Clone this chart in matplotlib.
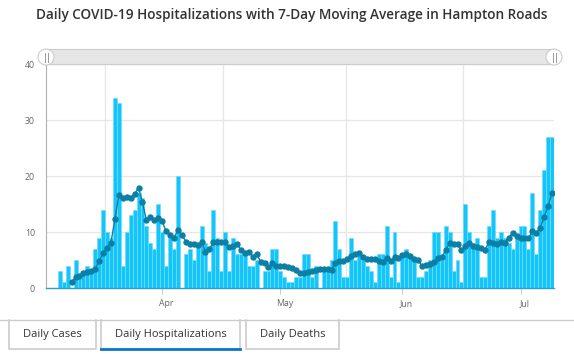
import matplotlib
matplotlib.use("Agg")
import matplotlib.pyplot as plt
import matplotlib.transforms as mtransforms
from matplotlib.patches import Rectangle, Circle
import pandas as pd

# Daily hospitalizations, one value per day starting Mar 3
START_DATE = "2020-03-03"
daily_hosp = [0, 0, 0, 3, 1, 4, 0, 5, 2, 3, 4, 3, 7, 9, 14, 10, 9, 34, 33, 4,
              10, 13, 14, 17, 16, 11, 8, 7, 15, 10, 4, 9, 7, 20, 0, 6, 7, 5, 8, 11,
              8, 3, 14, 9, 3, 10, 3, 9, 6, 6, 6, 4, 4, 5, 0, 3, 3, 7, 7, 3,
              2, 1, 1, 2, 2, 6, 6, 2, 4, 0, 3, 3, 5, 12, 7, 2, 2, 9, 5, 6,
              5, 4, 3, 1, 6, 6, 11, 2, 10, 1, 6, 7, 6, 5, 2, 2, 3, 5, 10, 10,
              5, 11, 10, 3, 5, 1, 15, 10, 8, 9, 2, 2, 11, 14, 9, 10, 9, 8, 7, 9,
              11, 11, 7, 17, 6, 14, 21, 27, 27]

# 7-day moving average (first six days have none)
moving_avg = [None, None, None, None, None, None, 1.1, 1.9, 2.2, 2.6, 2.8, 3.1, 3.4, 4.8,
              6.2, 7.2, 8.1, 12.4, 16.6, 16.1, 16.3, 16.1, 16.8, 17.9, 15.3, 12.1, 12.6,
              12.2, 12.5, 11.9, 10.1, 9.5, 8.9, 10.4, 9.5, 8.3, 7.8, 7.9, 7.6, 8.3, 6.5,
              6.9, 8.2, 8.3, 8.2, 8.3, 7.3, 7.5, 7.9, 6.8, 6.3, 6.5, 5.6, 6.1, 4.7, 4.4,
              3.8, 4.4, 4.0, 3.9, 3.9, 3.8, 3.5, 3.3, 2.6, 2.6, 2.9, 3.1, 3.3, 3.4, 3.4,
              3.4, 3.3, 4.4, 4.9, 4.9, 5.1, 5.8, 6.1, 6.3, 5.5, 5.2, 5.2, 5.1, 4.8, 4.6,
              5.4, 4.8, 5.5, 5.3, 5.9, 6.1, 5.7, 5.1, 5.0, 3.9, 4.1, 4.3, 4.7, 5.3, 5.5,
              6.8, 8.0, 7.9, 7.9, 6.7, 7.5, 8.0, 7.5, 7.4, 7.1, 6.8, 8.3, 8.1, 7.9, 8.3,
              8.1, 9.0, 9.8, 9.3, 9.0, 9.0, 8.9, 10.1, 9.8, 10.8, 12.6, 14.6, 17.0]

month_ticks = ["2020-04-01", "2020-05-01", "2020-06-01", "2020-07-01"]
month_labels = ["Apr", "May", "Jun", "Jul"]
grid_dates = ["2020-03-17 14:00", "2020-04-16 12:00", "2020-05-17 14:00", "2020-06-16 10:00"]
y_ticks = [0, 10, 20, 30, 40]
tab_labels = ["Daily Cases", "Daily Hospitalizations", "Daily Deaths"]

W, H = 574, 354
FONT = "Open Sans"
plt.rcParams["font.family"] = [FONT, "DejaVu Sans"]

dates = pd.date_range(START_DATE, periods=len(daily_hosp), freq="D")

fig = plt.figure(figsize=(W / 100, H / 100), dpi=100)
fig.patch.set_facecolor("white")

# plot area in pixels: x 46..554, y 64..288
L, R, T, B = 46, 554, 64, 288
ax = fig.add_axes([L / W, 1 - B / H, (R - L) / W, (B - T) / H])

ax.bar(dates, daily_hosp, width=1.0, color="#14c5fa", edgecolor="#6fdcff",
       linewidth=0.5, zorder=2)
ma = pd.Series(moving_avg, index=dates, dtype=float)
ax.plot(ma.index, ma.values, color="#0b7fa4", linewidth=1.0, marker="o",
        markersize=4.6, markeredgewidth=0, zorder=3)

ax.set_xlim(dates[0] - pd.Timedelta(hours=12), dates[-1] + pd.Timedelta(hours=12))
ax.set_ylim(0, 40)

ax.set_yticks(y_ticks)
ax.set_yticklabels([str(v) for v in y_ticks])
ax.yaxis.grid(True, color="#e6e6e6", linewidth=0.9, zorder=0)
ax.tick_params(axis="y", length=0, pad=8, labelsize=6.3, labelcolor="#666666")

ax.set_xticks(pd.to_datetime(month_ticks))
ax.set_xticklabels(month_labels)
ax.tick_params(axis="x", length=4, width=0.8, color="#cccccc", pad=4,
               labelsize=6.3, labelcolor="#666666")
# month labels sit a few pixels right of their tick marks
shift = mtransforms.ScaledTranslation(4 / 100, 0, fig.dpi_scale_trans)
for lbl in ax.get_xticklabels():
    lbl.set_transform(lbl.get_transform() + shift)
ax.set_xticks(pd.to_datetime(grid_dates), minor=True)
ax.tick_params(axis="x", which="minor", length=0)
ax.xaxis.grid(True, which="minor", color="#e6e6e6", linewidth=0.9, zorder=0)
ax.set_axisbelow(True)

for side in ["top", "right"]:
    ax.spines[side].set_visible(False)
ax.spines["left"].set_color("#b0b0b0")
ax.spines["left"].set_linewidth(0.8)
ax.spines["bottom"].set_color("#2c9fd0")
ax.spines["bottom"].set_linewidth(1.0)

# overlay in pixel coordinates for title, navigator and tabs
ov = fig.add_axes([0, 0, 1, 1], facecolor="none")
ov.set_xlim(0, W)
ov.set_ylim(H, 0)
ov.axis("off")

ov.text(292, 15, "Daily COVID-19 Hospitalizations with 7-Day Moving Average in Hampton Roads",
        ha="center", va="center", fontsize=9.8, color="#333333", fontweight="semibold")

# navigator band with handles
ov.add_patch(Rectangle((L, 49), R - L, 15, facecolor="#e6e6e6", edgecolor="#cccccc",
                       linewidth=0.8, zorder=4))
for hx in (L, R):
    ov.add_patch(Circle((hx, 57), 8, facecolor="white", edgecolor="#cccccc",
                        linewidth=0.8, zorder=5))
    for dx in (-1.5, 1.5):
        ov.plot([hx + dx, hx + dx], [52.5, 61.5], color="#999999", linewidth=0.7, zorder=6)

# tabs
ov.plot([0, W], [319.5, 319.5], color="#cccccc", linewidth=1.0)
tabs = [(9, 96), (101, 240), (246, 339)]
for (x0, x1), label in zip(tabs, tab_labels):
    ov.plot([x0, x0, x1, x1], [320, 348.5, 348.5, 320], color="#cccccc", linewidth=1.2)
    ov.text((x0 + x1) / 2, 334, label, ha="center", va="center", fontsize=8.0,
            color="#333333")
ov.plot([101, 240], [348.5, 348.5], color="#0a77c9", linewidth=2.0)

fig.savefig("out.png", dpi=100, facecolor="white")
